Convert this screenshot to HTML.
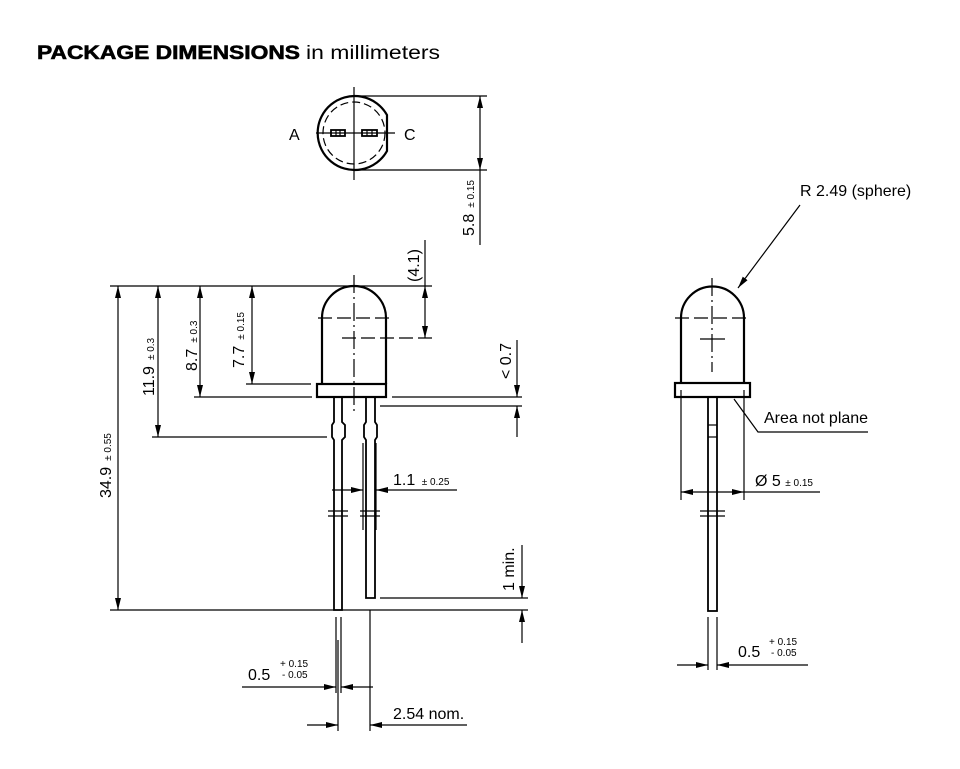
<!DOCTYPE html>
<html><head><meta charset="utf-8"><style>html,body{margin:0;padding:0;background:#fff}svg{display:block}text{font-family:"Liberation Sans",sans-serif;fill:#000}</style></head><body>
<svg width="960" height="769" viewBox="0 0 960 769" xmlns="http://www.w3.org/2000/svg">
<defs>
<marker id="a" viewBox="0 0 12 6" refX="12" refY="3" markerWidth="12" markerHeight="6" markerUnits="userSpaceOnUse" orient="auto"><path d="M0,0L12,3L0,6z" fill="#000"/></marker>
</defs>
<text x="37" y="59" font-size="19" font-weight="bold" textLength="263" lengthAdjust="spacingAndGlyphs" stroke="#000" stroke-width="0.6">PACKAGE DIMENSIONS</text>
<text x="306" y="59" font-size="19" textLength="134" lengthAdjust="spacingAndGlyphs">in millimeters</text>
<g stroke="#000" fill="none" stroke-width="1.2">
<!-- top view -->
<path d="M387,115 A37,37 0 1 0 387,151 Z" stroke-width="2.2"/>
<circle cx="354" cy="133" r="31" stroke-dasharray="8,4"/>
<line x1="354" y1="87" x2="354" y2="180"/>
<line x1="316" y1="133" x2="395" y2="133"/>
<rect x="331" y="130" width="14" height="6" stroke-width="1.8"/>
<rect x="362" y="130" width="15" height="6" stroke-width="1.8"/>
<line x1="336" y1="130" x2="336" y2="136"/><line x1="340" y1="130" x2="340" y2="136"/>
<line x1="367" y1="130" x2="367" y2="136"/><line x1="372" y1="130" x2="372" y2="136"/>
<line x1="354" y1="96" x2="487" y2="96"/>
<line x1="354" y1="170" x2="487" y2="170"/>
<line x1="480" y1="132" x2="480" y2="96" marker-end="url(#a)"/>
<line x1="480" y1="132" x2="480" y2="170" marker-end="url(#a)"/>
<line x1="480" y1="170" x2="480" y2="245"/>
<!-- front view -->
<path d="M322,384 L322,318 A32,32 0 0 1 386,318 L386,384" stroke-width="2.2"/>
<rect x="317" y="384" width="69" height="13" stroke-width="2.2"/>
<line x1="318" y1="318" x2="392" y2="318" stroke-dasharray="14,5"/>
<line x1="342" y1="338" x2="432" y2="338" stroke-dasharray="14,5"/>
<line x1="354" y1="275" x2="354" y2="412" stroke-dasharray="18,4,2,4"/>
<path d="M334,397V422L332,425V437L334,440V610H342V440L345,437V425L342,422V397" stroke-width="1.8"/>
<path d="M366,397V422L364,425V437L366,440V598H375V440L377,437V425L375,422V397" stroke-width="1.8"/>
<line x1="328" y1="511" x2="348" y2="511"/><line x1="328" y1="516" x2="348" y2="516"/>
<line x1="360" y1="511" x2="380" y2="511"/><line x1="360" y1="516" x2="380" y2="516"/>
<line x1="110" y1="286" x2="432" y2="286"/>
<line x1="118" y1="450" x2="118" y2="286" marker-end="url(#a)"/>
<line x1="118" y1="450" x2="118" y2="610" marker-end="url(#a)"/>
<line x1="110" y1="610" x2="528" y2="610"/>
<line x1="158" y1="360" x2="158" y2="286" marker-end="url(#a)"/>
<line x1="158" y1="360" x2="158" y2="437" marker-end="url(#a)"/>
<line x1="152" y1="437" x2="327" y2="437"/>
<line x1="200" y1="340" x2="200" y2="286" marker-end="url(#a)"/>
<line x1="200" y1="340" x2="200" y2="397" marker-end="url(#a)"/>
<line x1="194" y1="397" x2="312" y2="397"/>
<line x1="392" y1="397" x2="522" y2="397"/>
<line x1="252" y1="335" x2="252" y2="286" marker-end="url(#a)"/>
<line x1="252" y1="335" x2="252" y2="384" marker-end="url(#a)"/>
<line x1="246" y1="384" x2="311" y2="384"/>
<line x1="380" y1="406" x2="522" y2="406"/>
<line x1="517" y1="340" x2="517" y2="397" marker-end="url(#a)"/>
<line x1="517" y1="437" x2="517" y2="406" marker-end="url(#a)"/>
<line x1="425" y1="240" x2="425" y2="286"/>
<line x1="425" y1="312" x2="425" y2="286" marker-end="url(#a)"/>
<line x1="425" y1="312" x2="425" y2="338" marker-end="url(#a)"/>
<line x1="363" y1="443" x2="363" y2="530"/><line x1="376" y1="443" x2="376" y2="530"/>
<line x1="332" y1="490" x2="363" y2="490" marker-end="url(#a)"/>
<line x1="457" y1="490" x2="376" y2="490" marker-end="url(#a)"/>
<line x1="522" y1="545" x2="522" y2="598" marker-end="url(#a)"/>
<line x1="522" y1="643" x2="522" y2="610" marker-end="url(#a)"/>
<line x1="380" y1="598" x2="528" y2="598"/>
<line x1="336" y1="617" x2="336" y2="693"/><line x1="341" y1="617" x2="341" y2="693"/>
<line x1="242" y1="687" x2="336" y2="687" marker-end="url(#a)"/>
<line x1="373" y1="687" x2="341" y2="687" marker-end="url(#a)"/>
<line x1="338" y1="640" x2="338" y2="731"/><line x1="370" y1="610" x2="370" y2="731"/>
<line x1="307" y1="725" x2="338" y2="725" marker-end="url(#a)"/>
<line x1="467" y1="725" x2="370" y2="725" marker-end="url(#a)"/>
<!-- side view -->
<path d="M681,383 L681,318 A31.5,31.5 0 0 1 744,318 L744,383" stroke-width="2.2"/>
<rect x="675" y="383" width="75" height="14" stroke-width="2.2"/>
<line x1="675" y1="318" x2="750" y2="318" stroke-dasharray="14,5"/>
<line x1="712" y1="278" x2="712" y2="372" stroke-dasharray="18,4,2,4"/>
<line x1="700" y1="339" x2="725" y2="339"/>
<rect x="708" y="397" width="9" height="214" stroke-width="1.8"/>
<line x1="708" y1="425" x2="717" y2="425"/><line x1="708" y1="437" x2="717" y2="437"/>
<line x1="700" y1="511" x2="725" y2="511"/><line x1="700" y1="516" x2="725" y2="516"/>
<line x1="681" y1="390" x2="681" y2="500"/><line x1="744" y1="390" x2="744" y2="500"/>
<line x1="712" y1="492" x2="681" y2="492" marker-end="url(#a)"/>
<line x1="712" y1="492" x2="744" y2="492" marker-end="url(#a)"/>
<line x1="744" y1="492" x2="820" y2="492"/>
<polyline points="734,399 758,432 868,432"/>
<line x1="800" y1="205" x2="738" y2="288" marker-end="url(#a)"/>
<line x1="708" y1="617" x2="708" y2="670"/><line x1="717" y1="617" x2="717" y2="670"/>
<line x1="677" y1="665" x2="708" y2="665" marker-end="url(#a)"/>
<line x1="808" y1="665" x2="717" y2="665" marker-end="url(#a)"/>
</g>
<g font-size="16">
<text x="289" y="140">A</text>
<text x="404" y="140">C</text>
<text transform="translate(474,236) rotate(-90)"><tspan>5.8</tspan><tspan font-size="10" dx="6">± 0.15</tspan></text>
<text transform="translate(419,282) rotate(-90)">(4.1)</text>
<text transform="translate(154,396) rotate(-90)"><tspan>11.9</tspan><tspan font-size="10" dx="6">± 0.3</tspan></text>
<text transform="translate(197,371) rotate(-90)"><tspan>8.7</tspan><tspan font-size="10" dx="6">± 0.3</tspan></text>
<text transform="translate(244,368) rotate(-90)"><tspan>7.7</tspan><tspan font-size="10" dx="6">± 0.15</tspan></text>
<text transform="translate(111,498) rotate(-90)"><tspan>34.9</tspan><tspan font-size="10" dx="6">± 0.55</tspan></text>
<text transform="translate(511,379) rotate(-90)">&lt; 0.7</text>
<text transform="translate(514,591) rotate(-90)">1 min.</text>
<text x="393" y="485">1.1 <tspan font-size="10" dx="2">± 0.25</tspan></text>
<text x="248" y="680">0.5</text>
<text x="280" y="667" font-size="10">+ 0.15</text>
<text x="282" y="678" font-size="10">- 0.05</text>
<text x="393" y="719">2.54 nom.</text>
<text x="800" y="196">R 2.49 (sphere)</text>
<text x="764" y="423">Area not plane</text>
<text x="755" y="486">Ø 5 <tspan font-size="10">± 0.15</tspan></text>
<text x="738" y="657">0.5</text>
<text x="769" y="645" font-size="10">+ 0.15</text>
<text x="771" y="656" font-size="10">- 0.05</text>
</g>
</svg>
</body></html>
